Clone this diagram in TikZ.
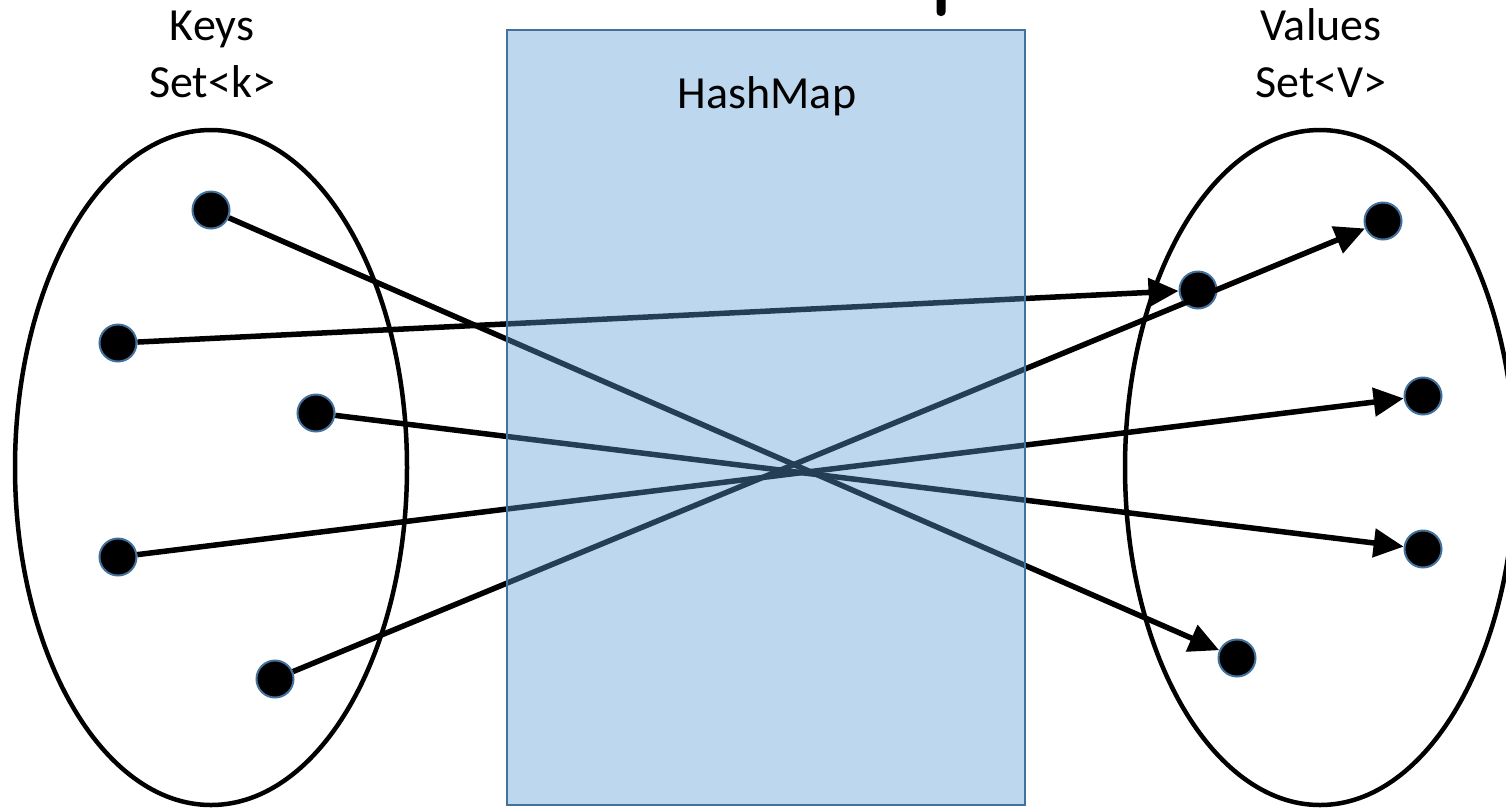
\documentclass[tikz,border=0pt]{standalone}
\usepackage{fontspec}
\setmainfont{Carlito}
\usetikzlibrary{arrows.meta}
\definecolor{dotedge}{HTML}{41719C}
\definecolor{mapfill}{HTML}{5B9BD5}
\begin{document}
\begin{tikzpicture}[x=1pt,y=-1pt,
  dot/.style={circle,fill=black,draw=dotedge,line width=2pt,inner sep=0pt,minimum size=37pt},
  link/.style={line width=5.5pt,-{Triangle[length=30pt,width=28pt]}},
  setline/.style={line width=4.5pt},
  lbl/.style={font=\fontsize{46}{57}\selectfont,align=center,inner sep=0pt,anchor=base}]
\useasboundingbox (0,0) rectangle (1506,807);
% sets
\draw[setline] (211,467.5) ellipse [x radius=196, y radius=337.5];
\draw[setline] (1320,467.5) ellipse [x radius=195, y radius=337.5];
% cut-off bar at top
\fill[rounded corners=4pt] (936.5,-10) rectangle (945.5,16);
% key dots
\node[dot] (k1) at (211,210) {};
\node[dot] (k2) at (118,343) {};
\node[dot] (k3) at (316,413) {};
\node[dot] (k4) at (118,557) {};
\node[dot] (k5) at (275,679) {};
% value dots
\node[dot] (v1) at (1383,221) {};
\node[dot] (v2) at (1198,290) {};
\node[dot] (v3) at (1423,396) {};
\node[dot] (v4) at (1423,549) {};
\node[dot] (v5) at (1237,658) {};
% mappings
\draw[link] (k1) -- (v5);
\draw[link] (k2) -- (v2);
\draw[link] (k3) -- (v4);
\draw[link] (k4) -- (v3);
\draw[link] (k5) -- (v1);
% hashmap box
\filldraw[fill=mapfill,fill opacity=0.4,draw=dotedge,line width=2.5pt] (507,30) rectangle (1025,805);
% labels
\node[lbl] (hm) at (767,108) {HashMap};
\node[lbl] (keys) at (212,40) {Keys};
\node[lbl] (kset) at (212,97) {Set<k>};
\node[lbl] (vals) at (1321,40) {Values};
\node[lbl] (vset) at (1321,97) {Set<V>};
\end{tikzpicture}
\end{document}
